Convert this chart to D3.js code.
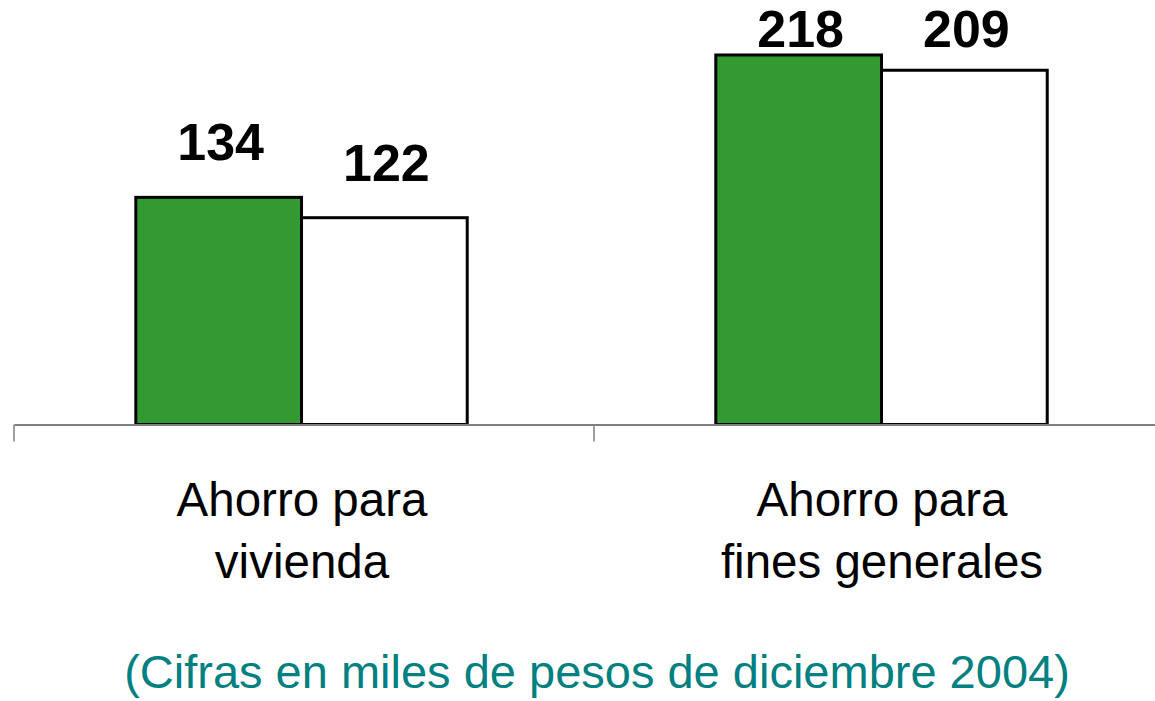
<!DOCTYPE html>
<html>
<head>
<meta charset="utf-8">
<script src="https://cdn.jsdelivr.net/npm/d3@7"></script>
<style>
  body { margin: 0; background: #fff; }
  svg { display: block; font-family: "Liberation Sans", Arial, sans-serif; }
</style>
</head>
<body>
<svg id="chart" width="1155" height="701"></svg>
<script>
// Data
const categories = [["Ahorro para", "vivienda"], ["Ahorro para", "fines generales"]];
const series = ["s1", "s2"];
const values = [[134, 122], [218, 209]];
const colors = ["#339933", "#ffffff"];
const footnote = "(Cifras en miles de pesos de diciembre 2004)";

const svg = d3.select("#chart");
const baseY = 424.5;

const x = d3.scaleBand()
    .domain(d3.range(categories.length))
    .range([14, 1174])
    .paddingInner(0)
    .paddingOuter(0);

const xSub = d3.scaleBand()
    .domain(series)
    .range([0, x.bandwidth()])
    .paddingInner(0)
    .paddingOuter(0.75)
    .align(0.49);

const y = d3.scaleLinear()
    .domain([0, 250])
    .range([baseY, baseY - 250 * 1.695]);

// bars
const groups = svg.append("g").selectAll("g")
    .data(values)
    .join("g")
    .attr("transform", (d, i) => `translate(${x(i)},0)`);

groups.selectAll("rect")
    .data(d => d.map((v, j) => ({ v, s: series[j], j })))
    .join("rect")
    .attr("x", d => xSub(d.s))
    .attr("y", d => y(d.v))
    .attr("width", xSub.bandwidth())
    .attr("height", d => baseY - y(d.v))
    .attr("fill", d => colors[d.j])
    .attr("stroke", "#000")
    .attr("stroke-width", 3);

// value labels
groups.selectAll("text.val")
    .data(d => d.map((v, j) => ({ v, s: series[j] })))
    .join("text")
    .attr("class", "val")
    .attr("x", d => xSub(d.s) + xSub.bandwidth() / 2 + 2)
    .attr("y", d => Math.max(y(d.v) - 37, 47))
    .attr("text-anchor", "middle")
    .attr("font-size", 52)
    .attr("font-weight", "bold")
    .attr("fill", "#000")
    .text(d => d.v);

// axis
const axis = d3.axisBottom(x).tickSize(0).tickFormat("");
const axG = svg.append("g").attr("transform", `translate(0,${baseY})`).call(axis);
axG.select(".domain").attr("stroke", "#808080").attr("stroke-width", 2);
axG.selectAll(".tick").remove();

// boundary ticks between categories
const bounds = x.domain().map(i => x(i)).concat([x.range()[1]]);
svg.append("g").selectAll("line")
    .data(bounds)
    .join("line")
    .attr("x1", d => d).attr("x2", d => d)
    .attr("y1", baseY).attr("y2", baseY + 17)
    .attr("stroke", "#808080")
    .attr("stroke-width", 1.5);

// category labels
svg.append("g").selectAll("text")
    .data(categories)
    .join("text")
    .attr("x", (d, i) => x(i) + x.bandwidth() / 2 - 2)
    .attr("y", 516)
    .attr("text-anchor", "middle")
    .attr("font-size", 47.5)
    .attr("fill", "#000")
    .selectAll("tspan")
    .data(d => d)
    .join("tspan")
    .attr("x", function () { return this.parentNode.getAttribute("x"); })
    .attr("dy", (d, i) => i === 0 ? 0 : 62)
    .text(d => d);

// footnote
svg.append("text")
    .attr("x", 597)
    .attr("y", 688)
    .attr("text-anchor", "middle")
    .attr("font-size", 47)
    .attr("fill", "#008080")
    .text(footnote);
</script>
</body>
</html>
